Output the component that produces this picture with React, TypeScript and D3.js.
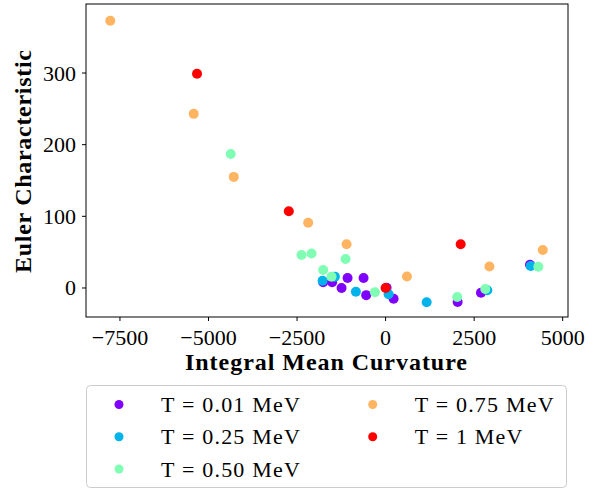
import React from "react";
import * as d3 from "d3";

const seriesLabels = ["T = 0.01 MeV", "T = 0.25 MeV", "T = 0.50 MeV", "T = 0.75 MeV", "T = 1 MeV"];
const seriesColors = ["#8000ff", "#00b4eb", "#80ffb4", "#ffb462", "#ff0000"];

const t001X = [-1763, -1509, -1074, -622, -1243, -548, 28, 226, 2034, 2693, 4077];
const t001Y = [8, 8, 14, 14, 0, -10, 0.4, -15, -19.5, -6.6, 32.5];
const t025X = [-1780, -1433, -839, 85, 1159, 2871, 4097];
const t025Y = [10.2, 15.8, -5.2, -8.8, -20, -3.2, 30.7];
const t050X = [-4372, -2374, -2091, -1763, -1526, -1130, -302, 2023, 2814, 4312];
const t050Y = [187, 46, 48, 25, 15.8, 40.5, -6, -12.6, -1.4, 29.7];
const t075X = [-7774, -5418, -4287, -2186, -1102, 603, 2931, 4438];
const t075Y = [373, 243, 155, 91, 61, 16, 30, 53];
const t100X = [-5324, -2733, 0, 2120];
const t100Y = [299, 107, 0, 61];

const xTicks = [-7500, -5000, -2500, 0, 2500, 5000];
const yTicks = [0, 100, 200, 300];

const seriesX = [t001X, t025X, t050X, t075X, t100X];
const seriesY = [t001Y, t025Y, t050Y, t075Y, t100Y];

const FONT = "'Liberation Serif', serif";

export default function App() {
  const W = 597, H = 491;
  const left = 86, right = 568, top = 4, bottom = 317;
  const x = d3.scaleLinear().domain([-8459, 5150]).range([left, right]);
  const y = d3.scaleLinear().domain([-40.5, 396.3]).range([bottom, top]);
  const fmt = (v: number) => (v < 0 ? "\u2212" + Math.abs(v) : String(v));

  const legendPos = [
    [119, 404.5], [119, 436.7], [119, 469], [372.7, 404.5], [372.7, 436.7],
  ];

  return (
    <svg width={W} height={H} style={{ position: "absolute", left: 0, top: 0 }}>
      <rect width={W} height={H} fill="#fff" />
      {seriesX.map((xs, si) =>
        xs.map((xv, i) => (
          <circle key={`${si}-${i}`} cx={x(xv)} cy={y(seriesY[si][i])} r={5} fill={seriesColors[si]} />
        ))
      )}
      <rect x={left} y={top} width={right - left} height={bottom - top} fill="none" stroke="#000" strokeWidth={1} />
      {xTicks.map((t) => (
        <g key={t}>
          <line x1={x(t)} x2={x(t)} y1={bottom} y2={bottom + 4} stroke="#000" strokeWidth={1} />
          <text x={x(t)} y={345} textAnchor="middle" fontFamily={FONT} fontSize={22}>{fmt(t)}</text>
        </g>
      ))}
      {yTicks.map((t) => (
        <g key={t}>
          <line x1={left - 4} x2={left} y1={y(t)} y2={y(t)} stroke="#000" strokeWidth={1} />
          <text x={76} y={y(t) + 7.5} textAnchor="end" fontFamily={FONT} fontSize={22}>{fmt(t)}</text>
        </g>
      ))}
      <text x={185} y={370} textLength={282} lengthAdjust="spacing" fontFamily={FONT} fontSize={24} fontWeight="bold">Integral Mean Curvature</text>
      <text transform={`translate(31,273) rotate(-90)`} textLength={223} lengthAdjust="spacing" fontFamily={FONT} fontSize={24} fontWeight="bold">Euler Characteristic</text>
      <rect x={86.5} y={385.5} width={480} height={102} rx={4} fill="#fff" stroke="#ccc" strokeWidth={1} />
      {seriesLabels.map((lab, i) => (
        <g key={lab}>
          <circle cx={legendPos[i][0]} cy={legendPos[i][1]} r={4.5} fill={seriesColors[i]} />
          <text x={legendPos[i][0] + 42} y={legendPos[i][1] + 7.5} fontFamily={FONT} fontSize={22} letterSpacing={1.2}>{lab}</text>
        </g>
      ))}
    </svg>
  );
}
